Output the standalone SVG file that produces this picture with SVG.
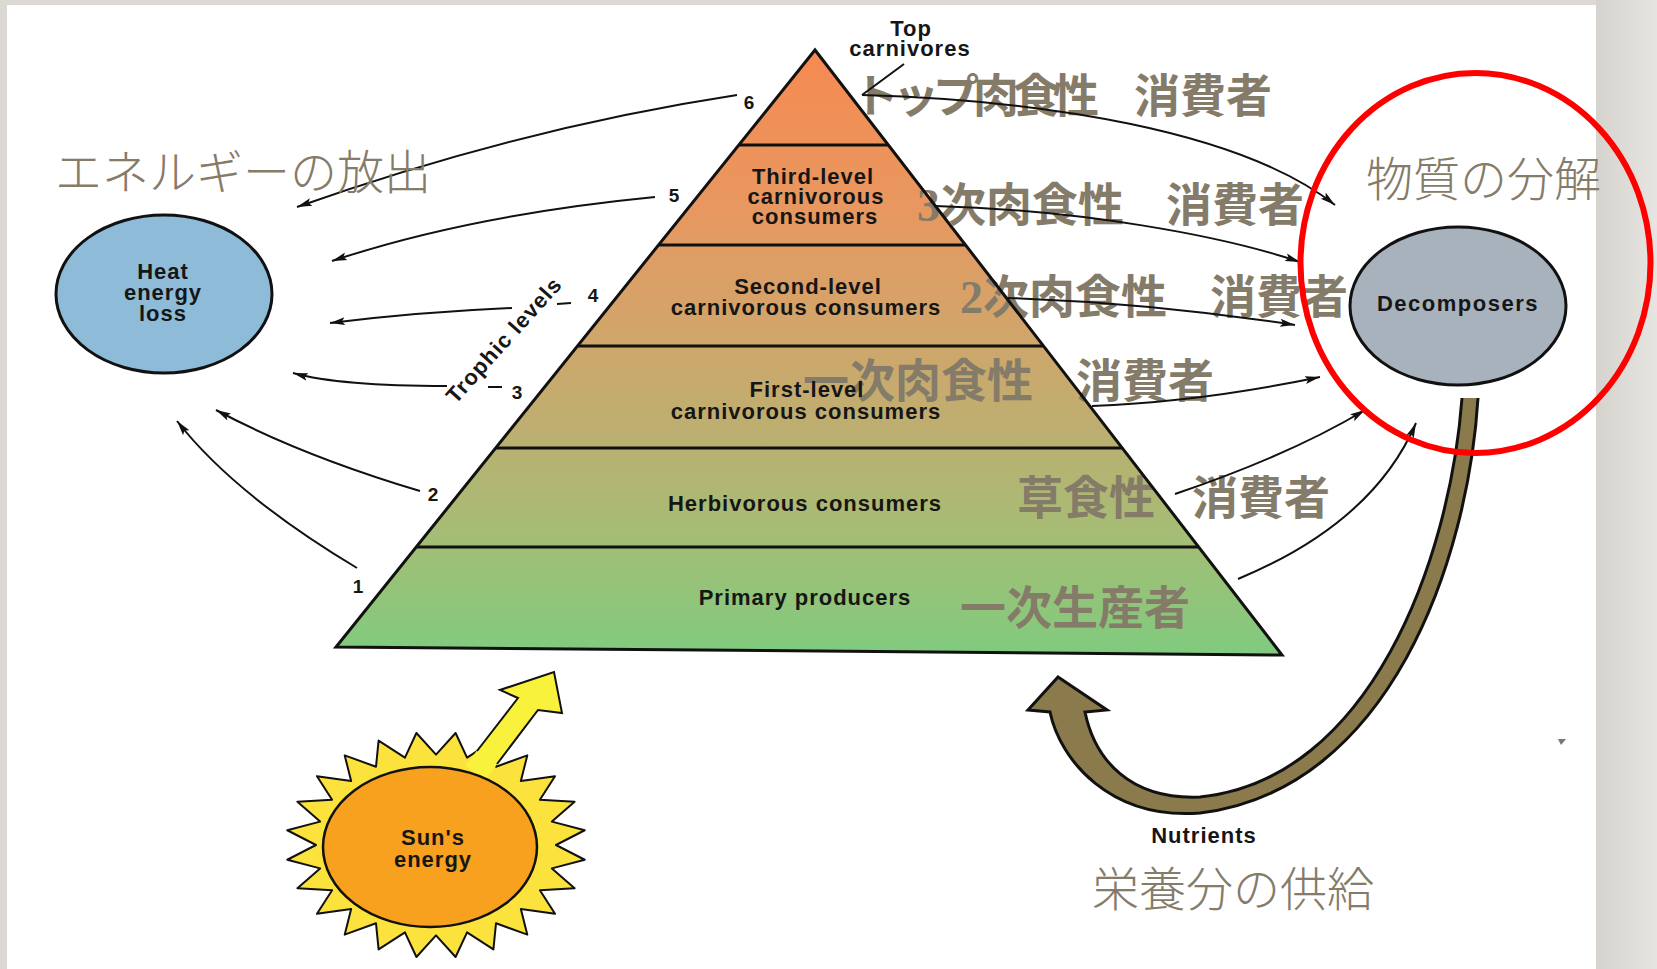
<svg xmlns="http://www.w3.org/2000/svg" width="1657" height="969" viewBox="0 0 1657 969">
  <defs>
    <linearGradient id="pyrFill" x1="0" y1="50" x2="0" y2="655" gradientUnits="userSpaceOnUse">
      <stop offset="0" stop-color="#f68a52"/>
      <stop offset="0.25" stop-color="#e8975f"/>
      <stop offset="0.45" stop-color="#d3a46a"/>
      <stop offset="0.62" stop-color="#beae70"/>
      <stop offset="0.8" stop-color="#a5bd75"/>
      <stop offset="1" stop-color="#80cb7e"/>
    </linearGradient>
    <linearGradient id="sideFill" x1="0" y1="0" x2="1" y2="0">
      <stop offset="0" stop-color="#d6d3ce"/>
      <stop offset="1" stop-color="#e7e5e1"/>
    </linearGradient>
    <marker id="ah" markerUnits="userSpaceOnUse" markerWidth="16" markerHeight="10" refX="15" refY="5" orient="auto">
      <path d="M0,1 L15,5 L0,9 L3,5 z" fill="#111"/>
    </marker>
  </defs>
  <style>
    .lbl { font-family: "Liberation Sans", Arial, sans-serif; font-weight: bold; font-size: 22px; fill: #161616; text-anchor: middle; letter-spacing: 1px; }
    .num { font-family: "Liberation Sans", Arial, sans-serif; font-weight: bold; font-size: 19px; fill: #161616; text-anchor: middle; }
    .jp { font-family: "Liberation Serif", "Noto Sans CJK JP", serif; font-weight: bold; font-size: 46px; fill: #857b69; }
    .jpl { font-family: "Noto Sans CJK JP", sans-serif; font-weight: 300; font-size: 47px; fill: #857b69; }
    .arrow { fill: none; stroke: #111; stroke-width: 2; marker-end: url(#ah); }
    .line { fill: none; stroke: #111; stroke-width: 2; }
    .edge { stroke: #111; stroke-width: 3; fill: none; }
  </style>

  <!-- page -->
  <g id="background">
    <rect x="0" y="0" width="1657" height="969" fill="#dcd9d4"/>
    <rect x="1596" y="0" width="61" height="969" fill="url(#sideFill)"/>
    <rect x="7" y="5" width="1589" height="964" fill="#ffffff"/>
    <polygon points="1558,739 1566,739 1561,745" fill="#777"/>
  </g>

  <!-- heat sink -->
  <g id="node-heat">
    <ellipse cx="164" cy="294" rx="108" ry="79" fill="#8dbbd8" stroke="#111" stroke-width="3"/>
    <text class="lbl" x="163" y="279">Heat</text>
    <text class="lbl" x="163" y="300">energy</text>
    <text class="lbl" x="163" y="321">loss</text>
  </g>

  <!-- decomposers -->
  <g id="node-decomposers">
    <ellipse cx="1458" cy="306" rx="108" ry="79" fill="#a8b2bd" stroke="#111" stroke-width="3"/>
    <text class="lbl" x="1458" y="311" style="letter-spacing:1.5px">Decomposers</text>
  </g>

  <!-- trophic pyramid -->
  <g id="node-pyramid">
    <polygon points="815,50 1282,655 336,647" fill="url(#pyrFill)"/>
  </g>

  <!-- Japanese level names -->
  <g id="level-labels-jp">
    <text class="jp" x="853" y="112" font-size="44" textLength="246" lengthAdjust="spacing">トップ肉食性</text>
    <text class="jp" x="1134" y="112">消費者</text>
    <text class="jp" x="917" y="221">3次肉食性</text>
    <text class="jp" x="1166" y="221">消費者</text>
    <text class="jp" x="960" y="313">2次肉食性</text>
    <text class="jp" x="1210" y="313">消費者</text>
    <text class="jp" x="803" y="397">一次肉食性</text>
    <text class="jp" x="1076" y="397">消費者</text>
    <text class="jp" x="1017" y="514">草食性</text>
    <text class="jp" x="1192" y="514">消費者</text>
    <text class="jp" x="960" y="624">一次生産者</text>
  </g>

  <g id="pyramid-outline">
    <polygon class="edge" points="815,50 1282,655 336,647" stroke-linejoin="miter"/>
    <line class="edge" x1="739" y1="145" x2="888" y2="145"/>
    <line class="edge" x1="659" y1="245" x2="966" y2="245"/>
    <line class="edge" x1="578" y1="346" x2="1043" y2="346"/>
    <line class="edge" x1="496" y1="448" x2="1122" y2="448"/>
    <line class="edge" x1="416" y1="547" x2="1199" y2="547"/>
  </g>

  <g id="pyramid-labels">
    <text class="lbl" x="911" y="36">Top</text>
    <text class="lbl" x="910" y="56">carnivores</text>
    <text class="lbl" x="813" y="184">Third-level</text>
    <text class="lbl" x="816" y="204">carnivorous</text>
    <text class="lbl" x="815" y="224">consumers</text>
    <text class="lbl" x="808" y="294">Second-level</text>
    <text class="lbl" x="806" y="315">carnivorous consumers</text>
    <text class="lbl" x="807" y="397">First-level</text>
    <text class="lbl" x="806" y="419">carnivorous consumers</text>
    <text class="lbl" x="805" y="511">Herbivorous consumers</text>
    <text class="lbl" x="805" y="605">Primary producers</text>
  </g>

  <!-- level numbers and axis label -->
  <g id="trophic-axis">
    <text class="num" x="749" y="109">6</text>
    <text class="num" x="674" y="202">5</text>
    <text class="num" x="593" y="302">4</text>
    <text class="num" x="517" y="399">3</text>
    <text class="num" x="433" y="501">2</text>
    <text class="num" x="358" y="593">1</text>
    <line class="line" x1="557" y1="304" x2="571" y2="303" stroke-width="2.5"/>
    <line class="line" x1="488" y1="387" x2="502" y2="387" stroke-width="2.5"/>
    <text class="lbl" font-size="18" style="letter-spacing:1px" transform="translate(505 341) rotate(-48)" y="6">Trophic levels</text>
  </g>

  <!-- energy and matter flows -->
  <g id="connectors">
    <!-- heat losses -->
    <path class="arrow" d="M737,95 Q520,128 297,207"/>
    <path class="arrow" d="M655,197 Q470,215 332,261"/>
    <path class="arrow" d="M512,308 Q420,312 330,323"/>
    <path class="arrow" d="M447,386 Q340,386 293,373"/>
    <path class="arrow" d="M420,491 Q300,455 216,410"/>
    <path class="arrow" d="M357,568 Q235,495 177,421"/>
    <!-- dead matter to decomposers -->
    <line class="line" x1="904" y1="64" x2="862" y2="95"/>
    <path class="arrow" d="M862,95 C1040,100 1240,130 1335,205"/>
    <path class="arrow" d="M935,206 C1080,210 1220,235 1300,262"/>
    <path class="arrow" d="M1008,298 Q1150,303 1295,325"/>
    <path class="arrow" d="M1092,406 Q1200,402 1320,377"/>
    <path class="arrow" d="M1175,494 Q1290,455 1365,410"/>
    <path class="arrow" d="M1238,579 Q1373,523 1416,423"/>
  </g>

  <!-- sun -->
  <g id="node-sun">
    <polygon transform="translate(436 845) scale(150 113)" vector-effect="non-scaling-stroke" fill="#fbe23c" stroke="#111" stroke-width="2" stroke-linejoin="round"
      points="0.8,0 0.99144,0.13053 0.77274,0.20706 0.92388,0.38268 0.69282,0.4 0.79335,0.60876 0.56569,0.56569 0.60876,0.79335 0.4,0.69282 0.38268,0.92388 0.20706,0.77274 0.13053,0.99144 0,0.8 -0.13053,0.99144 -0.20706,0.77274 -0.38268,0.92388 -0.4,0.69282 -0.60876,0.79335 -0.56569,0.56569 -0.79335,0.60876 -0.69282,0.4 -0.92388,0.38268 -0.77274,0.20706 -0.99144,0.13053 -0.8,0 -0.99144,-0.13053 -0.77274,-0.20706 -0.92388,-0.38268 -0.69282,-0.4 -0.79335,-0.60876 -0.56569,-0.56569 -0.60876,-0.79335 -0.4,-0.69282 -0.38268,-0.92388 -0.20706,-0.77274 -0.13053,-0.99144 0,-0.8 0.13053,-0.99144 0.20706,-0.77274 0.38268,-0.92388 0.4,-0.69282 0.60876,-0.79335 0.56569,-0.56569 0.79335,-0.60876 0.69282,-0.4 0.92388,-0.38268 0.77274,-0.20706 0.99144,-0.13053"/>
    <path d="M465,766 L518,698 L500,690 L554,672 L562,713 L538,710 L486,779 Z" fill="#f8f23c"/>
    <path d="M477,751 L518,698 L500,690 L554,672 L562,713 L538,710 L497,764" fill="none" stroke="#111" stroke-width="2" stroke-linejoin="miter"/>
    <ellipse cx="430" cy="847" rx="107" ry="80" fill="#f7a11f" stroke="#111" stroke-width="2.5"/>
    <text class="lbl" x="433" y="845">Sun's</text>
    <text class="lbl" x="433" y="867">energy</text>
  </g>

  <!-- nutrient return -->
  <g id="node-nutrients">
    <path d="M1478,398 C1468,560 1390,790 1200,813 C1110,820 1060,760 1050,712 L1028,710 L1058,677 L1107,710 L1085,712 C1095,760 1130,800 1200,797 C1370,780 1450,560 1462,398 Z" fill="#8a7a4c"/>
    <path d="M1478,398 C1468,560 1390,790 1200,813 C1110,820 1060,760 1050,712 L1028,710 L1058,677 L1107,710 L1085,712 C1095,760 1130,800 1200,797 C1370,780 1450,560 1462,398" fill="none" stroke="#111" stroke-width="3" stroke-linejoin="miter"/>
    <text class="lbl" x="1204" y="843">Nutrients</text>
  </g>

  <!-- captions -->
  <g id="captions">
    <text class="jpl" x="55" y="189">エネルギーの放出</text>
    <text class="jpl" x="1366" y="196">物質の分解</text>
    <text class="jpl" x="1092" y="906">栄養分の供給</text>
  </g>

  <g id="highlight">
    <ellipse cx="1475.5" cy="263" rx="175" ry="190" fill="none" stroke="#ff0000" stroke-width="6"/>
  </g>
</svg>
